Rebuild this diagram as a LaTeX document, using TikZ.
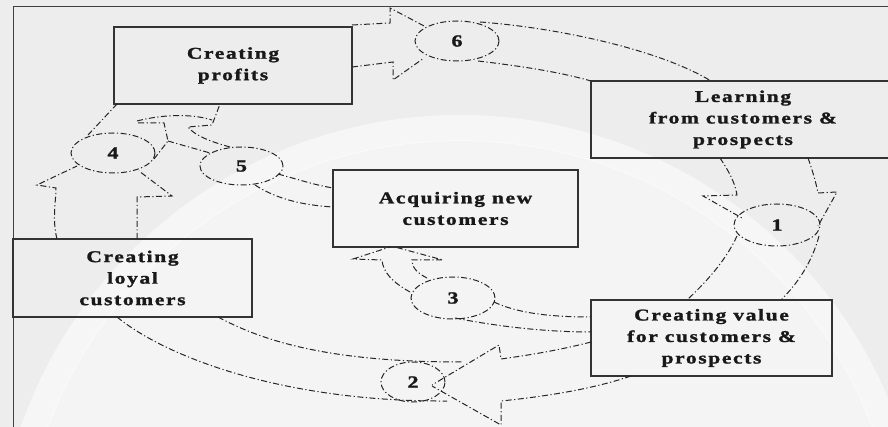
\documentclass[tikz,border=0pt]{standalone}
\usepackage{fontspec}
\setmainfont{Liberation Serif}[FakeStretch=1.3, LetterSpace=10, BoldFeatures={FakeBold=1.5}]
\usetikzlibrary{shapes.geometric}
\tikzset{
  flow/.style={draw=black!85, line width=1pt, dash pattern=on 6pt off 2.5pt on 1.2pt off 2.5pt},
  boxnode/.style={draw=black!80, line width=1.1pt, align=center, inner sep=0pt,
    font=\bfseries\fontsize{16.5}{21.5}\selectfont, text=black!90},
  numnode/.style={ellipse, draw=black!85, line width=1pt, dash pattern=on 6pt off 2.5pt on 1.2pt off 2.5pt,
    inner sep=0pt, font=\bfseries\fontsize{17}{17}\selectfont, text=black!90},
  framebox/.style={draw=black!75, line width=1pt}
}
\begin{document}
\begin{tikzpicture}[x=1pt,y=-1pt]
\useasboundingbox (0,0) rectangle (888,427);
\clip (0,0) rectangle (888,427);
\fill[black!7] (0,0) rectangle (888,427);
\fill[white, opacity=0.4] (460,580) circle (440);
\draw[white, line width=26pt, opacity=0.55] (460,580) circle (452);
\draw[framebox] (13,7) rectangle (900,440);

% boxes
\node[boxnode, minimum width=238, minimum height=77] (profits) at (233,65.5) {Creating\\profits};
\node[boxnode, minimum width=304, minimum height=77] (learning) at (743,119.5) {Learning\\from customers \&\\prospects};
\node[boxnode, minimum width=245, minimum height=77] (acquire) at (455.5,208.5) {Acquiring new\\customers};
\node[boxnode, minimum width=239, minimum height=78] (loyal) at (132.5,278) {Creating\\loyal\\customers};
\node[boxnode, minimum width=241, minimum height=76] (value) at (711.5,338) {Creating value\\for customers \&\\prospects};

% number ellipses
\node[numnode, minimum width=84, minimum height=40] (e6) at (457,41) {6};
\node[numnode, minimum width=86, minimum height=42] (e1) at (777,225) {1};
\node[numnode, minimum width=64, minimum height=40] (e2) at (413,382) {2};
\node[numnode, minimum width=84, minimum height=42] (e3) at (453,298) {3};
\node[numnode, minimum width=84, minimum height=40] (e4) at (113,153) {4};
\node[numnode, minimum width=83, minimum height=38] (e5) at (241.5,166) {5};

% arrow 6: profits -> learning
\draw[flow] (352,25) -- (390,23) -- (390,8) -- (426,27);
\draw[flow] (352,67) -- (393,62) -- (393,80) -- (424,58);
\draw[flow] (480,22) .. controls (560,28) and (660,50) .. (711,81);
\draw[flow] (478,61) .. controls (520,66) and (560,72) .. (591,81);

% arrow 1: learning -> value
\draw[flow] (720,158) .. controls (728,170) and (735,182) .. (737,195) -- (703,196) -- (742,218);
\draw[flow] (808,158) .. controls (813,172) and (816,183) .. (818,193) -- (837,192) -- (818,226);
\draw[flow] (737,236) .. controls (725,262) and (705,283) .. (687,300);
\draw[flow] (819,236) .. controls (812,262) and (798,283) .. (781,300);

% arrow 2: value -> loyal
\draw[flow] (591,342) .. controls (560,350) and (530,355) .. (501,359) -- (499,345) -- (432,385);
\draw[flow] (631,376) .. controls (590,390) and (540,397) .. (501,401) -- (501,425) -- (432,386);
\draw[flow] (218,317) .. controls (270,345) and (340,362) .. (462,362);
\draw[flow] (117,317) .. controls (170,360) and (290,402) .. (447,401);

% arrow 3: value -> acquire
\draw[flow] (494,302) .. controls (515,312) and (545,317) .. (591,317);
\draw[flow] (455,318) .. controls (490,325) and (540,332) .. (591,332);
\draw[flow] (410,292) .. controls (392,282) and (383,272) .. (382,260) -- (353,259) -- (390,247);
\draw[flow] (427,278) .. controls (415,272) and (412,266) .. (412,260) -- (443,260) -- (395,247);

% arrow 4: loyal -> profits
\draw[flow] (57,239) .. controls (52,220) and (56,200) .. (56,188) -- (37,185) -- (77,166);
\draw[flow] (137,239) -- (137,197) -- (172,196) -- (139,171);
\draw[flow] (88,135) -- (117,104);
\draw[flow] (154,159) -- (168,141) -- (164,123) -- (136,123);

% arrow 5: acquire -> profits
\draw[flow] (278,174) .. controls (300,180) and (315,185) .. (333,188);
\draw[flow] (255,185) .. controls (275,198) and (300,205) .. (333,207);
\draw[flow] (168,141) .. controls (185,146) and (200,150) .. (210,153);
\draw[flow] (230,147) .. controls (212,142) and (195,136) .. (188,127) -- (212,125) -- (220,104);
\draw[flow] (137,121) .. controls (160,115) and (190,113) .. (212,120);
\end{tikzpicture}
\end{document}
